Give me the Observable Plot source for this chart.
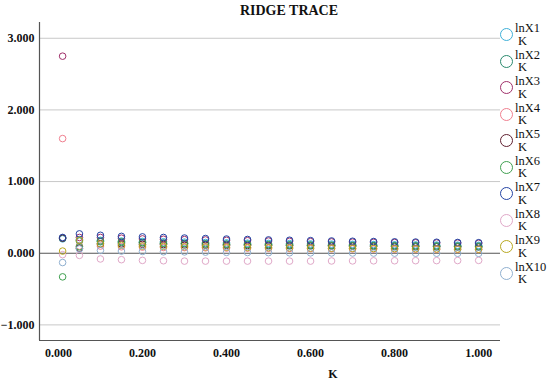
<!DOCTYPE html>
<html>
<head>
<meta charset="utf-8">
<script src="https://cdn.jsdelivr.net/npm/d3@7"></script>
<script src="https://cdn.jsdelivr.net/npm/@observablehq/plot@0.6"></script>
<style>
  body { margin: 0; background: #fff; }
  #wrap { position: relative; width: 550px; height: 385px; font-family: "Liberation Serif", "DejaVu Serif", serif; }
  #title { position: absolute; top: 3px; left: 289px; transform: translateX(-50%); font-weight: bold; font-size: 14px; color: #111; white-space: nowrap; }
  #xlabel { position: absolute; top: 367px; left: 333px; transform: translateX(-50%); font-weight: bold; font-size: 12px; color: #111; }
  #legend { position: absolute; left: 498px; top: 22px; }
  .item { position: relative; height: 26.5px; }
  .item .c { position: absolute; left: 2px; top: 6px; width: 11px; height: 11px; border-radius: 50%; border: 1.3px solid; }
  .item .t { position: absolute; left: 17px; top: 0px; font-size: 12.5px; line-height: 12.5px; color: #111; }
  .item .t span { display: block; padding-left: 3px; }
</style>
</head>
<body>
<div id="wrap">
  <div id="chart"></div>
  <div id="title">RIDGE TRACE</div>
  <div id="xlabel">K</div>
  <div id="legend"></div>
</div>
<script>
const K = [0.01, 0.05, 0.10, 0.15, 0.20, 0.25, 0.30, 0.35, 0.40, 0.45, 0.50, 0.55, 0.60, 0.65, 0.70, 0.75, 0.80, 0.85, 0.90, 0.95, 1.00];
const seriesNames = ["lnX1", "lnX2", "lnX3", "lnX4", "lnX5", "lnX6", "lnX7", "lnX8", "lnX9", "lnX10"];
const seriesColors = ["#3fb0d8", "#2a8a6e", "#a0306a", "#f08090", "#602030", "#40a050", "#2444a4", "#e0a8c8", "#b8a820", "#90b0d0"];
const lnX1  = [0.20, 0.19, 0.18, 0.17, 0.165, 0.16, 0.155, 0.15, 0.145, 0.14, 0.137, 0.134, 0.13, 0.127, 0.124, 0.121, 0.118, 0.116, 0.114, 0.112, 0.11];
const lnX2  = [0.21, 0.17, 0.16, 0.15, 0.145, 0.14, 0.135, 0.13, 0.127, 0.124, 0.121, 0.118, 0.115, 0.112, 0.11, 0.108, 0.106, 0.104, 0.102, 0.10, 0.098];
const lnX3  = [2.75, 0.22, 0.22, 0.21, 0.20, 0.195, 0.19, 0.185, 0.18, 0.175, 0.17, 0.166, 0.162, 0.158, 0.155, 0.152, 0.149, 0.146, 0.143, 0.141, 0.139];
const lnX4  = [1.60, 0.10, 0.10, 0.09, 0.085, 0.08, 0.078, 0.075, 0.072, 0.07, 0.068, 0.066, 0.064, 0.062, 0.06, 0.058, 0.056, 0.055, 0.054, 0.053, 0.052];
const lnX5  = [0.21, 0.07, 0.13, 0.13, 0.125, 0.12, 0.115, 0.112, 0.11, 0.108, 0.106, 0.104, 0.102, 0.10, 0.098, 0.096, 0.094, 0.092, 0.09, 0.088, 0.086];
const lnX6  = [-0.33, 0.09, 0.17, 0.16, 0.15, 0.14, 0.135, 0.13, 0.125, 0.12, 0.116, 0.112, 0.108, 0.105, 0.102, 0.10, 0.098, 0.096, 0.094, 0.092, 0.09];
const lnX7  = [0.22, 0.27, 0.25, 0.235, 0.228, 0.22, 0.212, 0.205, 0.198, 0.192, 0.186, 0.181, 0.176, 0.171, 0.167, 0.163, 0.159, 0.156, 0.153, 0.15, 0.147];
const lnX8  = [-0.02, -0.03, -0.08, -0.09, -0.10, -0.105, -0.11, -0.11, -0.11, -0.11, -0.11, -0.11, -0.11, -0.108, -0.107, -0.106, -0.105, -0.104, -0.103, -0.102, -0.10];
const lnX9  = [0.03, 0.18, 0.13, 0.11, 0.10, 0.095, 0.09, 0.087, 0.084, 0.081, 0.078, 0.075, 0.072, 0.07, 0.068, 0.066, 0.064, 0.062, 0.06, 0.058, 0.056];
const lnX10 = [-0.13, 0.06, 0.04, 0.03, 0.025, 0.02, 0.018, 0.015, 0.012, 0.01, 0.008, 0.006, 0.005, 0.004, 0.003, 0.002, 0.001, 0.0, 0.0, -0.001, -0.002];
const yTicks = [-1, 0, 1, 2, 3];
const xTicks = [0, 0.2, 0.4, 0.6, 0.8, 1.0];

const allSeries = [lnX1, lnX2, lnX3, lnX4, lnX5, lnX6, lnX7, lnX8, lnX9, lnX10];
const data = [];
allSeries.forEach((vals, i) => vals.forEach((v, j) => data.push({series: seriesNames[i], k: K[j], v})));

const xDomain = [-0.045, 1.052];
const yDomain = [-1.218, 3.22];

const chart = Plot.plot({
  width: 550,
  height: 385,
  marginLeft: 39,
  marginRight: 50,
  marginTop: 22,
  marginBottom: 45,
  style: { fontFamily: "Liberation Serif, serif", fontSize: "12px", fontWeight: "bold", color: "#111", background: "#fff" },
  x: { domain: xDomain, ticks: xTicks, tickFormat: d3.format(".3f") },
  y: { domain: yDomain, ticks: yTicks, tickFormat: d3.format(".3f") },
  color: { domain: seriesNames, range: seriesColors },
  marks: [
    Plot.ruleY(yTicks.filter(d => d !== 0), { stroke: "#c8c8c8", strokeWidth: 1 }),
    Plot.ruleY([0], { stroke: "#555", strokeWidth: 1.2 }),
    Plot.ruleX([xDomain[0]], { stroke: "#555", strokeWidth: 1.2 }),
    Plot.ruleY([yDomain[0]], { stroke: "#555", strokeWidth: 1.2 }),
    Plot.axisX({ ticks: xTicks, tickSize: 0, tickPadding: 8, tickFormat: d3.format(".3f"), label: null, fontSize: 12 }),
    Plot.axisY({ ticks: yTicks, tickSize: 0, tickPadding: 5, tickFormat: d3.format(".3f"), label: null, fontSize: 12 }),
    Plot.dot(data, { x: "k", y: "v", stroke: "series", r: 3.3, strokeWidth: 1, fill: "none" })
  ]
});
document.getElementById("chart").appendChild(chart);

const legend = document.getElementById("legend");
seriesNames.forEach((n, i) => {
  const it = document.createElement("div");
  it.className = "item";
  it.innerHTML = `<div class="c" style="border-color:${seriesColors[i]}"></div><div class="t">${n}<span>K</span></div>`;
  legend.appendChild(it);
});
</script>
</body>
</html>
